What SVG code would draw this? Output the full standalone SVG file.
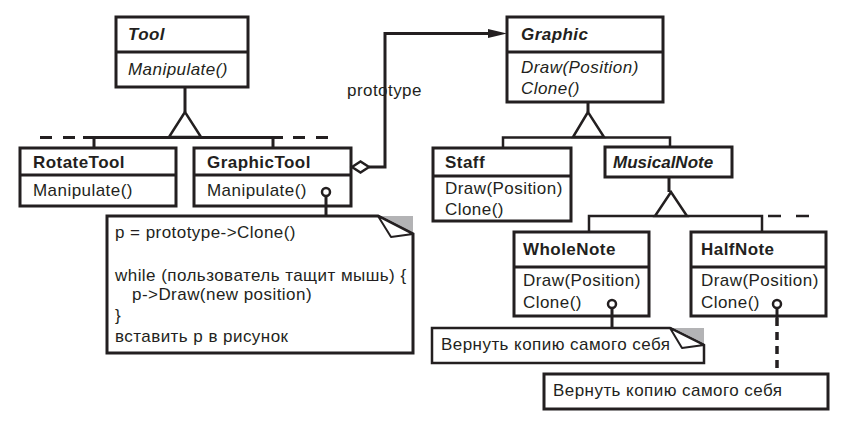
<svg xmlns="http://www.w3.org/2000/svg" width="851" height="435" viewBox="0 0 851 435">
<style>
text{font-family:"Liberation Sans",Arial,sans-serif;font-size:17px;fill:#231f20;letter-spacing:0.45px}
.b{font-weight:bold}
.i{font-style:italic}
.box{fill:#fff;stroke:#231f20;stroke-width:3}
.ln{fill:none;stroke:#231f20;stroke-width:3}
.tn{fill:none;stroke:#231f20;stroke-width:2.5}
.tri{fill:#fff;stroke:#231f20;stroke-width:2.5;stroke-linejoin:miter}
.dash{fill:none;stroke:#231f20;stroke-width:3;stroke-dasharray:12 11}
.pin{fill:#fff;stroke:#231f20;stroke-width:2.5}
.fold{fill:#b3b3b5}
.flap{fill:#fff;stroke:#231f20;stroke-width:2;stroke-linejoin:round}
</style>

<g id="Tool">
<rect class="box" x="116" y="17" width="132" height="70"/>
<line class="ln" x1="116" y1="52" x2="248" y2="52"/>
<text class="b i" x="128" y="40">Tool</text>
<text class="i" x="128" y="75">Manipulate()</text>
</g>

<g id="RotateTool">
<rect class="box" x="20" y="148" width="156" height="58"/>
<line class="ln" x1="20" y1="175" x2="176" y2="175"/>
<text class="b" x="33" y="168">RotateTool</text>
<text x="33" y="196">Manipulate()</text>
</g>

<g id="GraphicTool">
<rect class="box" x="194" y="148" width="157" height="58"/>
<line class="ln" x1="194" y1="175" x2="351" y2="175"/>
<text class="b" x="207" y="168">GraphicTool</text>
<text x="207" y="196">Manipulate()</text>
</g>

<g id="Graphic">
<rect class="box" x="507" y="17" width="156" height="85"/>
<line class="ln" x1="507" y1="52" x2="663" y2="52"/>
<text class="b i" x="521" y="40">Graphic</text>
<text class="i" x="521" y="73">Draw(Position)</text>
<text class="i" x="521" y="94">Clone()</text>
</g>

<g id="Staff">
<rect class="box" x="433" y="148" width="138" height="73"/>
<line class="ln" x1="433" y1="176" x2="571" y2="176"/>
<text class="b" x="445" y="168">Staff</text>
<text x="445" y="194">Draw(Position)</text>
<text x="445" y="215">Clone()</text>
</g>

<g id="MusicalNote">
<rect class="box" x="605" y="147" width="127" height="30"/>
<text class="b i" x="613" y="168" style="letter-spacing:0">MusicalNote</text>
</g>

<g id="WholeNote">
<rect class="box" x="514" y="232" width="135" height="84"/>
<line class="ln" x1="514" y1="267" x2="649" y2="267"/>
<text class="b" x="523" y="255">WholeNote</text>
<text x="523" y="286">Draw(Position)</text>
<text x="523" y="308">Clone()</text>
</g>

<g id="HalfNote">
<rect class="box" x="691" y="232" width="135" height="84"/>
<line class="ln" x1="691" y1="267" x2="826" y2="267"/>
<text class="b" x="701" y="255">HalfNote</text>
<text x="701" y="286">Draw(Position)</text>
<text x="701" y="308">Clone()</text>
</g>

<g id="note-GraphicTool">
<path class="fold" d="M378,216 H413 V234 Z"/>
<path class="box" d="M107,216 H378 L413,234 V353 H107 Z" style="stroke-linejoin:miter"/>
<path class="flap" d="M378,216 L391,237 L413,234 Z"/>
<text x="115" y="238">p = prototype-&gt;Clone()</text>
<text x="115" y="281">while (пользователь тащит мышь) {</text>
<text x="132" y="300">p-&gt;Draw(new position)</text>
<text x="115" y="321">}</text>
<text x="115" y="342">вставить p в рисунок</text>
</g>

<g id="note-WholeNote">
<path class="fold" d="M670,328 H704 V345 Z"/>
<path class="box" d="M432,328 H670 L704,345 V363 H432 Z" style="stroke-width:2.5"/>
<path class="flap" d="M670,328 L682,348 L704,345 Z"/>
<text x="441" y="350">Вернуть копию самого себя</text>
</g>

<g id="note-HalfNote">
<rect class="box" x="544" y="374" width="284" height="35"/>
<text x="553" y="396">Вернуть копию самого себя</text>
</g>

<g id="connectors">
<!-- Tool hierarchy -->
<line class="ln" x1="185" y1="88" x2="185" y2="112"/>
<line class="ln" x1="83" y1="137.5" x2="283" y2="137.5"/>
<path class="dash" d="M40,137.5 H75 M293,137.5 H328"/>
<line class="ln" x1="94" y1="137" x2="94" y2="147"/>
<line class="ln" x1="273" y1="137" x2="273" y2="147"/>
<path class="tri" d="M185,112 L169,137 L201,137 Z"/>
<!-- prototype aggregation -->
<path class="ln" d="M369,167 H385 V33.5 H488"/>
<path d="M488,29 L507,33.5 L488,38 Z" fill="#231f20"/>
<path d="M352,167 L360.5,161.5 L369,167 L360.5,172.5 Z" fill="#fff" stroke="#231f20" stroke-width="2.5"/>
<text x="347" y="96">prototype</text>
<!-- Graphic hierarchy -->
<line class="ln" x1="588" y1="103" x2="588" y2="112"/>
<path class="tn" d="M503,147 V137.5 H670 V146"/>
<path class="tri" d="M588,112 L573,137 L604,137 Z"/>
<!-- MusicalNote hierarchy -->
<line class="ln" x1="669" y1="178" x2="669" y2="192"/>
<path class="tn" d="M589,231 V216 H762 V231"/>
<path class="dash" d="M768,216 H815" style="stroke-dasharray:13 15;stroke-width:2.5"/>
<path class="tri" d="M671,192 L655,216 L687,216 Z"/>
<!-- note links -->
<line class="ln" x1="326" y1="196" x2="326" y2="215"/>
<circle class="pin" cx="326" cy="192" r="4"/>
<line class="ln" x1="612" y1="308" x2="612" y2="327"/>
<circle class="pin" cx="612" cy="304" r="4"/>
<line class="ln" x1="777" y1="308" x2="777" y2="318"/>
<line x1="777" y1="318" x2="777" y2="373" stroke="#231f20" stroke-width="3.5" stroke-dasharray="8 6"/>
<circle class="pin" cx="777" cy="304" r="4"/>
</g>
</svg>
